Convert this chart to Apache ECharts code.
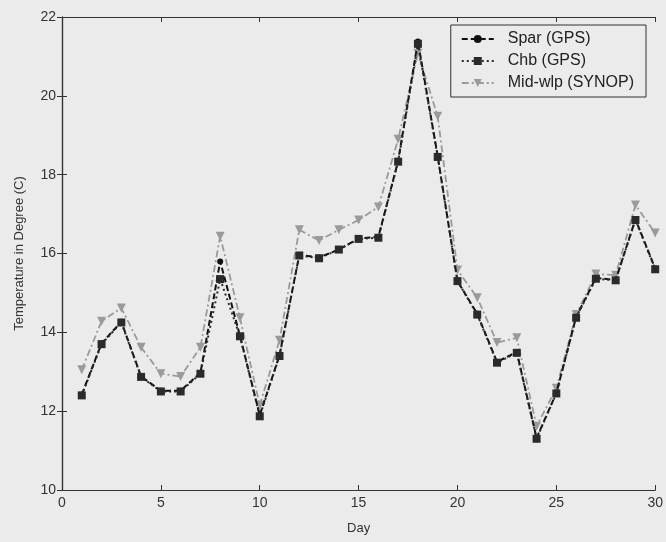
<!DOCTYPE html>
<html><head><meta charset="utf-8">
<script src="https://cdn.jsdelivr.net/npm/echarts@6/dist/echarts.min.js"></script>
<style>html,body{margin:0;padding:0;background:#ebebeb;}#c{width:666px;height:542px;}</style>
</head><body><div id="c"></div>
<script>
const days = [1,2,3,4,5,6,7,8,9,10,11,12,13,14,15,16,17,18,19,20,21,22,23,24,25,26,27,28,29,30];
const spar = [12.42,13.72,14.27,12.88,12.52,12.52,12.97,15.8,13.91,11.9,13.42,15.96,15.9,16.1,16.38,16.42,18.35,21.38,18.47,15.3,14.47,13.25,13.5,11.32,12.46,14.39,15.38,15.33,16.87,15.62];
const chb = [12.4,13.7,14.25,12.87,12.5,12.5,12.95,15.35,13.9,11.87,13.4,15.95,15.88,16.1,16.37,16.4,18.33,21.32,18.45,15.3,14.45,13.23,13.48,11.3,12.45,14.37,15.36,15.32,16.85,15.6];
const midwlp = [13.05,14.28,14.62,13.62,12.95,12.88,13.62,16.44,14.37,12.15,13.8,16.6,16.33,16.6,16.85,17.18,18.9,21.08,19.48,15.58,14.88,13.74,13.86,11.62,12.58,14.45,15.48,15.45,17.23,16.52];
const names = ['Spar (GPS)','Chb (GPS)','Mid-wlp (SYNOP)'];
const xTicks = [0,5,10,15,20,25,30];
const yTicks = [10,12,14,16,18,20,22];

const font = 'Liberation Sans, Arial, sans-serif';
const chart = echarts.init(document.getElementById('c'));
const pair = (vals)=>days.map((d,i)=>[d,vals[i]]);
const axisCommon = {
  axisLine:{show:true,lineStyle:{color:'#333',width:1.2}},
  axisTick:{show:true,inside:true,length:5,lineStyle:{color:'#333'}},
  splitLine:{show:false}
};
chart.setOption({
  backgroundColor:'#ebebeb',
  animation:false,
  textStyle:{fontFamily:font},
  grid:{left:62,right:10,top:17,bottom:52,show:false},
  legend:{
    orient:'vertical', right:20, top:25, itemGap:6, itemWidth:32, itemHeight:10,
    backgroundColor:'#ebebeb', borderColor:'#333', borderWidth:1, padding:[6,12,6,10],
    textStyle:{fontSize:16,color:'#222',fontFamily:font,padding:[0,0,0,9]},
    data:names
  },
  xAxis:[
    Object.assign({type:'value',min:xTicks[0],max:xTicks[xTicks.length-1],interval:5,position:'bottom',
      name:'Day',nameLocation:'middle',nameGap:32,nameTextStyle:{fontSize:13,color:'#333'},
      axisLabel:{fontSize:14,color:'#333',margin:6}},axisCommon),
    Object.assign({type:'value',min:xTicks[0],max:xTicks[xTicks.length-1],interval:5,position:'top',
      axisLabel:{show:false}},axisCommon)
  ],
  yAxis:[
    Object.assign({type:'value',min:yTicks[0],max:yTicks[yTicks.length-1],interval:2,position:'left',
      name:'Temperature in Degree (C)',nameLocation:'middle',nameGap:36,nameTextStyle:{fontSize:13,color:'#333'},
      axisLabel:{fontSize:14,color:'#333',margin:6}},axisCommon),
    Object.assign({type:'value',min:yTicks[0],max:yTicks[yTicks.length-1],interval:2,position:'right',
      axisLabel:{show:false}},axisCommon)
  ],
  series:[
    {name:names[0],type:'line',data:pair(spar),symbol:'circle',symbolSize:6,
      lineStyle:{color:'#111',width:2,type:[6,3]},itemStyle:{color:'#111'},z:3},
    {name:names[1],type:'line',data:pair(chb),symbol:'rect',symbolSize:8,
      lineStyle:{color:'#2a2a2a',width:2,type:[2,3]},itemStyle:{color:'#2a2a2a'},z:4},
    {name:names[2],type:'line',data:pair(midwlp),symbol:'triangle',symbolRotate:180,symbolSize:9,
      lineStyle:{color:'#9a9a9a',width:1.8,type:[7,3,2,3]},itemStyle:{color:'#9a9a9a'},z:2}
  ]
});
</script></body></html>
